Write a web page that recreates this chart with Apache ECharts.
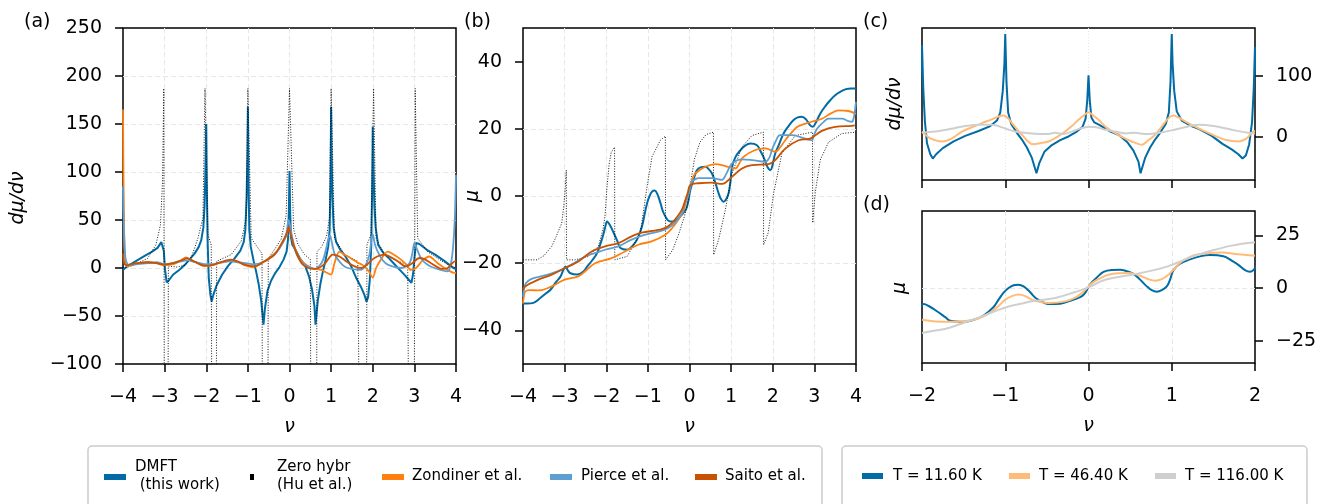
<!DOCTYPE html>
<html><head><meta charset="utf-8">
<script src="https://cdn.jsdelivr.net/npm/echarts@6/dist/echarts.min.js"></script>
<style>html,body{margin:0;padding:0;background:#fff}#c{width:1332px;height:504px}</style>
</head><body><div id="c"></div>
<script>
// ---------- DATA (nu, value) ----------
const xTicksAB = [-4,-3,-2,-1,0,1,2,3,4];
const yTicksA = [-100,-50,0,50,100,150,200,250];
const yTicksB = [-40,-20,0,20,40];
const yTicksC = [0,100];
const yTicksD = [-25,0,25];

// panel (a): dmu/dnu
const dmftDmu = [[-4,-2],[-3.95,0],[-3.85,3],[-3.7,7],[-3.5,12],[-3.3,17],[-3.17,21],[-3.08,27],[-3.05,28],[-3.02,18],[-2.99,-2],[-2.95,-15],[-2.9,-13],[-2.8,-7],[-2.65,-2],[-2.52,3],[-2.4,9],[-2.28,15],[-2.18,22],[-2.12,29],[-2.07,42],[-2.04,65],[-2.02,100],[-2.0,150],[-1.985,80],[-1.965,25],[-1.94,-10],[-1.9,-28],[-1.87,-35],[-1.83,-28],[-1.75,-18],[-1.62,-7],[-1.48,2],[-1.32,10],[-1.18,18],[-1.1,27],[-1.06,40],[-1.03,75],[-1.01,120],[-1.0,168],[-0.985,90],[-0.965,40],[-0.93,22],[-0.86,7],[-0.8,-4],[-0.74,-17],[-0.68,-34],[-0.625,-59],[-0.59,-42],[-0.53,-24],[-0.44,-13],[-0.34,-5],[-0.24,1],[-0.14,9],[-0.07,17],[-0.035,30],[-0.015,60],[0,101],[0.015,60],[0.035,32],[0.07,24],[0.13,20],[0.25,10],[0.37,3],[0.47,-9],[0.54,-22],[0.6,-40],[0.625,-59],[0.68,-34],[0.74,-17],[0.8,-4],[0.86,7],[0.93,22],[0.965,40],[0.985,90],[1.0,168],[1.01,120],[1.03,75],[1.06,42],[1.12,27],[1.22,19],[1.33,13],[1.48,2],[1.61,-11],[1.72,-20],[1.8,-28],[1.85,-35],[1.89,-30],[1.93,-12],[1.965,25],[1.985,80],[2.0,147],[2.02,100],[2.04,65],[2.07,42],[2.13,24],[2.25,16],[2.37,11],[2.5,5],[2.65,-2],[2.78,-8],[2.88,-13],[2.93,-15.5],[2.97,-6],[3.0,10],[3.04,26],[3.07,28],[3.12,25],[3.3,19],[3.5,14],[3.7,8],[3.85,3],[3.94,0],[4,-1]];
const zeroDmu = [[-4,0],[-3.8,2],[-3.65,5],[-3.41,10],[-3.21,24],[-3.1,45],[-3.05,90],[-3.02,187],[-3.0,-400],[-2.93,-400],[-2.91,2],[-2.7,1],[-2.5,3],[-2.35,12],[-2.2,31],[-2.08,52],[-2.03,187],[-1.96,35],[-1.88,24],[-1.85,-400],[-1.77,-400],[-1.75,7],[-1.6,10],[-1.4,14],[-1.16,28],[-1.04,52],[-1.0,187],[-0.92,31],[-0.76,21],[-0.66,15],[-0.64,-400],[-0.53,-400],[-0.51,10],[-0.35,20],[-0.2,30],[-0.08,55],[0,187],[0.1,40],[0.2,25],[0.36,14],[0.5,9],[0.53,-400],[0.64,-400],[0.66,17],[0.77,22],[0.89,33],[0.96,52],[1.0,187],[1.08,31],[1.32,14],[1.64,7],[1.73,-400],[1.84,-400],[1.86,24],[1.96,35],[2.02,187],[2.08,31],[2.28,14],[2.6,7],[2.84,3.5],[2.89,-400],[2.98,-400],[3.02,187],[3.08,31],[3.32,17],[3.56,10],[3.8,3.5],[4,0]];
const zondinerDmu = [[-4,165],[-3.98,60],[-3.95,10],[-3.9,2],[-3.8,3],[-3.65,5],[-3.4,6],[-3.2,5],[-3.0,3],[-2.8,4],[-2.6,8],[-2.49,11],[-2.35,8],[-2.2,5],[-2.04,2],[-1.85,3],[-1.7,5],[-1.5,7],[-1.35,8],[-1.2,6],[-1.08,3],[-0.9,1],[-0.75,3],[-0.6,7],[-0.45,12],[-0.3,17],[-0.18,25],[-0.08,33],[-0.02,42],[0.02,38],[0.1,25],[0.21,12],[0.35,5],[0.53,0],[0.77,-2],[0.9,-5],[1.0,-7],[1.08,5],[1.2,17],[1.32,14],[1.48,10],[1.62,6],[1.76,3],[1.9,-3],[2.0,-10],[2.08,0],[2.2,9],[2.36,17],[2.5,14],[2.64,10],[2.8,4],[2.92,-2],[3.04,0],[3.2,8],[3.36,12],[3.46,9],[3.56,5],[3.8,-2],[3.96,-5],[4,-5]];
const pierceDmu = [[-4,85],[-3.97,30],[-3.93,8],[-3.85,3],[-3.65,4],[-3.4,5],[-3.2,6],[-3.0,4],[-2.8,5],[-2.6,7],[-2.45,8],[-2.25,6],[-2.05,4],[-1.85,4],[-1.65,6],[-1.45,7],[-1.25,6],[-1.05,5],[-0.85,4],[-0.65,6],[-0.45,11],[-0.3,17],[-0.18,25],[-0.08,35],[-0.02,50],[0.03,40],[0.13,19],[0.25,8],[0.37,3.5],[0.61,-1],[0.75,4],[0.81,9],[0.88,20],[0.93,30],[0.97,34],[1.0,30],[1.08,15],[1.16,9],[1.28,3],[1.4,0],[1.72,-2],[1.85,5],[1.92,14],[1.97,30],[2.0,35],[2.05,25],[2.12,17],[2.24,8],[2.36,3.5],[2.68,0],[2.88,5],[2.95,15],[3.0,26],[3.06,20],[3.16,10],[3.3,4],[3.48,0],[3.8,-3.5],[3.88,5],[3.93,22],[3.97,50],[4,97]];
const saitoDmu = [[-4,15],[-3.97,5],[-3.92,3],[-3.8,4],[-3.65,5],[-3.4,6],[-3.2,5],[-3.0,3.5],[-2.8,5],[-2.6,8],[-2.45,10],[-2.3,7],[-2.04,2.4],[-1.85,3],[-1.72,5],[-1.4,8.7],[-1.08,3.5],[-0.84,1.7],[-0.6,7],[-0.36,14],[-0.16,28],[-0.05,38],[-0.02,43],[0.03,35],[0.12,21],[0.29,5],[0.45,0],[0.61,-1],[0.84,4],[1.04,14],[1.2,12],[1.36,7],[1.55,2],[1.72,0],[1.85,3],[2.04,10.4],[2.28,14],[2.45,11],[2.6,7],[2.8,1.7],[2.95,5],[3.12,10.4],[3.25,9],[3.4,5],[3.68,-1],[3.8,0],[3.88,3.5],[3.97,7],[4,7]];

// panel (b): mu
const dmftMu = [[-4,-32],[-3.9,-32],[-3.75,-31.8],[-3.6,-30.5],[-3.45,-29],[-3.34,-27.9],[-3.2,-25.5],[-3.1,-24],[-3.03,-22],[-2.98,-21],[-2.92,-22.2],[-2.86,-23],[-2.7,-23.4],[-2.55,-22.5],[-2.46,-21],[-2.34,-19.2],[-2.22,-17],[-2.12,-13.5],[-2.06,-11],[-2.02,-9],[-1.98,-7.6],[-1.92,-8.5],[-1.82,-11],[-1.72,-13.8],[-1.66,-15.5],[-1.5,-16],[-1.38,-15],[-1.26,-13],[-1.14,-9],[-1.08,-5.5],[-1.02,-2.2],[-0.96,0],[-0.9,1.3],[-0.84,1.6],[-0.78,0.8],[-0.7,-2],[-0.62,-5.1],[-0.46,-7.6],[-0.34,-7.4],[-0.22,-6],[-0.1,-4.3],[-0.06,-3.2],[-0.02,-1],[0.02,1.8],[0.1,5],[0.18,7.7],[0.28,8.6],[0.38,8.7],[0.46,8],[0.54,6.7],[0.62,4],[0.7,0.8],[0.76,-1],[0.82,-1.7],[0.88,-1],[0.94,0.8],[0.98,4],[1.02,8.5],[1.1,11.5],[1.22,13.6],[1.34,15],[1.46,15.6],[1.62,15.1],[1.72,13],[1.8,11],[1.88,8.5],[1.94,7.7],[1.98,8.5],[2.06,12.7],[2.14,15],[2.26,18.6],[2.38,20.8],[2.5,22.6],[2.6,23.4],[2.7,23.6],[2.8,22.8],[2.9,21],[2.96,20.6],[3.02,21.5],[3.14,24.5],[3.26,26.7],[3.38,28.5],[3.5,30],[3.62,31],[3.76,31.8],[3.88,32],[4,32]];
const zeroMu = [[-4,-19],[-3.66,-19],[-3.5,-17.8],[-3.31,-15],[-3.2,-12],[-3.07,-8.1],[-3.02,-3],[-2.99,1.5],[-2.96,7.7],[-2.955,-19],[-2.75,-19],[-2.43,-18],[-2.19,-15],[-2.08,-10],[-2.03,-6],[-1.98,3],[-1.93,9.5],[-1.88,13],[-1.8,14.5],[-1.795,-19],[-1.5,-18],[-1.18,-11],[-1.02,2.8],[-0.9,11.7],[-0.7,16.6],[-0.58,17.8],[-0.575,-19],[-0.54,-18.5],[-0.4,-16],[-0.25,-11],[-0.12,-6],[-0.04,-2],[0,1],[0.04,5],[0.12,11],[0.25,16],[0.4,18.3],[0.575,19],[0.58,-17.5],[0.7,-13],[0.86,-4.2],[1.02,6.7],[1.26,14.6],[1.5,18],[1.775,19],[1.78,-14.5],[1.89,-11],[2.02,0.8],[2.22,12.7],[2.54,18],[2.955,19],[2.96,-8],[3.02,0.9],[3.14,10.7],[3.34,16],[3.66,18.6],[4,19]];
const zondinerMu = [[-4,-32],[-3.98,-30],[-3.95,-28.5],[-3.85,-28],[-3.63,-28.1],[-3.31,-26.9],[-3.0,-24.9],[-2.67,-23.9],[-2.47,-22],[-2.27,-20],[-1.87,-18.5],[-1.55,-16.5],[-1.23,-14.5],[-0.91,-13.5],[-0.59,-11.6],[-0.42,-9.6],[-0.27,-7.1],[-0.15,-4.5],[-0.07,-1.2],[0,2],[0.07,5],[0.14,6.7],[0.38,8.7],[0.62,9.5],[0.86,8.9],[1.1,8.2],[1.2,9.8],[1.3,11.7],[1.58,13.7],[1.82,14.2],[2.06,13.2],[2.18,14.5],[2.3,16.6],[2.46,19],[2.62,20.8],[2.94,22.1],[3.18,23],[3.4,24.6],[3.58,25.5],[3.82,25.3],[4,24.4]];
const pierceMu = [[-4,-30],[-3.97,-27.5],[-3.93,-26],[-3.83,-24.9],[-3.6,-24],[-3.31,-23],[-3.0,-21.5],[-2.75,-19.8],[-2.51,-18],[-2.27,-17],[-2.03,-16],[-1.71,-15],[-1.39,-13],[-1.08,-11.6],[-0.75,-10.6],[-0.52,-9.6],[-0.29,-7.1],[-0.18,-5],[-0.1,-1.7],[-0.05,-0.6],[0.02,2.5],[0.06,4.3],[0.14,5],[0.22,5.3],[0.54,5.3],[0.68,5],[0.78,4.8],[0.88,6.5],[0.96,8.5],[1.02,9.7],[1.14,10.6],[1.26,10.9],[1.5,10.7],[1.82,10.2],[1.92,11.5],[1.98,13.7],[2.06,16],[2.18,18.1],[2.46,18.1],[2.7,17.4],[2.94,16.6],[2.98,17.8],[3.04,19.5],[3.1,20.6],[3.22,22],[3.34,23],[3.66,23],[3.82,22.3],[3.9,22.1],[3.95,23.5],[3.98,26],[4,28]];
const saitoMu = [[-4,-28],[-3.95,-26.9],[-3.63,-24.9],[-3.31,-23.4],[-3.0,-21.5],[-2.67,-19.5],[-2.35,-16.5],[-2.03,-15],[-1.71,-14],[-1.39,-12],[-1.15,-10.9],[-0.75,-10.1],[-0.52,-9.1],[-0.29,-6.1],[-0.18,-4],[-0.1,-1.2],[-0.04,1],[0.02,3.3],[0.22,3.8],[0.54,4],[0.78,3.6],[1.02,5.7],[1.26,8.2],[1.5,9.2],[1.9,9.5],[2.06,10.7],[2.3,14.1],[2.62,16.6],[2.9,17.1],[3.18,19.4],[3.5,20.6],[3.9,20.9],[3.97,21]];

// panels (c),(d): temperatures (T = 11.60 K uses the DMFT arrays above)
const t46Dmu = [[-2,9],[-1.98,6.5],[-1.9,-2],[-1.76,-7],[-1.64,-2],[-1.52,9],[-1.4,16],[-1.28,22.8],[-1.16,29],[-1.08,33.7],[-1.02,35.3],[-0.96,30],[-0.92,22.8],[-0.86,13],[-0.8,3.8],[-0.74,-5],[-0.68,-11.5],[-0.58,-10],[-0.48,-7.1],[-0.38,0],[-0.28,9.2],[-0.2,18],[-0.12,28.2],[-0.05,36],[0,40.7],[0.05,36],[0.12,28.2],[0.22,15],[0.32,6.5],[0.42,-1],[0.52,-7.1],[0.64,-12.6],[0.72,-5],[0.8,3.8],[0.88,17],[0.96,31],[1.02,35.3],[1.08,32],[1.16,25.5],[1.28,17],[1.4,9.2],[1.52,2],[1.64,-4.4],[1.8,-7.1],[1.9,-2],[1.94,3.8],[1.98,9.2],[2,10]];
const t116Dmu = [[-2,7],[-1.8,10],[-1.6,15],[-1.48,18],[-1.3,20],[-1.16,20],[-1.0,14],[-0.88,9.2],[-0.68,6],[-0.5,5],[-0.4,7],[-0.3,5],[-0.2,9],[-0.1,14],[0,17],[0.1,16],[0.2,12],[0.32,9],[0.45,6],[0.55,7],[0.7,5],[0.85,7],[1.0,11],[1.12,15],[1.32,20],[1.5,18],[1.72,12],[1.92,7],[2,6]];
const t46Mu = [[-2,-15],[-1.84,-15.8],[-1.68,-16],[-1.52,-15.8],[-1.36,-14.9],[-1.26,-13.4],[-1.16,-11],[-1.08,-8.5],[-1.0,-5.5],[-0.92,-3.8],[-0.84,-3.1],[-0.76,-3.8],[-0.68,-5.5],[-0.58,-6.6],[-0.48,-7.1],[-0.28,-6.3],[-0.16,-4.5],[-0.08,-2.4],[0.04,2.3],[0.14,4.6],[0.24,6.3],[0.36,7],[0.48,7.1],[0.56,6.6],[0.64,5.5],[0.72,4.2],[0.8,3.5],[0.88,4.2],[0.96,6.3],[1.04,9.5],[1.12,12.6],[1.22,14.8],[1.32,16],[1.46,16.6],[1.6,16.8],[1.8,16],[2,15.3]];
const t116Mu = [[-2,-21.3],[-1.84,-20.1],[-1.68,-18.9],[-1.48,-16.2],[-1.28,-13.4],[-1.12,-10.9],[-0.96,-8.7],[-0.8,-7.3],[-0.68,-6.3],[-0.4,-4.7],[-0.16,-1.9],[0,0.3],[0.2,3.9],[0.52,6.3],[0.8,8.6],[0.96,10.4],[1.12,12.9],[1.28,15.3],[1.44,17.3],[1.72,20.1],[2,21.7]];

// ---------- STYLE ----------
const FONT = 'DejaVu Sans';
const C = {dmft:'#006BA4', zon:'#FF800E', pie:'#5F9ED1', sai:'#C85200', t46:'#FFBC79', t116:'#CFCFCF'};
const fmt = v => (v < 0 ? '\u2212' + Math.abs(v) : String(v));
const dashed = {color:'#e6e6e6', width:1, type:[5,3]};
const dotted = {color:'#e6e6e6', width:1, type:[1,2]};
const tick = {show:true, length:8, lineStyle:{color:'#000', width:1.5}};
const lbl = {fontSize:19, fontFamily:FONT, color:'#000', formatter:fmt};

function xAx(gi, min, max, showLabel, split, name){
  return {gridIndex:gi, type:'value', min:min, max:max, interval:1,
    axisLine:{show:false, onZero:false}, axisTick:tick,
    axisLabel:Object.assign({show:showLabel, margin:24}, lbl),
    splitLine:{show:true, showMinLine:false, showMaxLine:false, lineStyle:split},
    name:name||'', nameLocation:'middle', nameGap:54,
    nameTextStyle:{fontSize:19, fontStyle:'italic', fontFamily:FONT, color:'#000'}};
}
function yAx(gi, min, max, ticks, pos, split){
  return {gridIndex:gi, type:'value', min:min, max:max, position:pos,
    axisLine:{show:false, onZero:false},
    axisTick:Object.assign({customValues:ticks}, tick),
    axisLabel:Object.assign({customValues:ticks, margin:21}, lbl),
    splitLine:{show:true, showMinLine:false, showMaxLine:false, lineStyle:split}};
}
function ln(name, data, xi, color, width, smooth, extra){
  return Object.assign({type:'line', name:name, data:data, xAxisIndex:xi, yAxisIndex:xi,
    showSymbol:false, symbol:'none', clip:true, smooth:smooth,
    lineStyle:{color:color, width:width}, itemStyle:{color:color}, animation:false}, extra||{});
}
const dotLine = {color:'#000', width:0.9, type:[1,1.6]};

const gridBox = {show:true, borderColor:'#000', borderWidth:1.5, backgroundColor:'transparent'};

const textStyle = (t, x, y, size, extra) => ({type:'text', x:x, y:y, z:100,
  style:Object.assign({text:t, fontSize:size, fontFamily:FONT, fill:'#000', align:'left', verticalAlign:'middle'}, extra||{})});

const graphic = [
  textStyle('(a)', 24, 22, 19), textStyle('(b)', 464, 22, 19),
  textStyle('(c)', 863, 22, 19), textStyle('(d)', 863, 205, 19),
  Object.assign(textStyle('d\u03bc/d\u03bd', 18, 198, 19, {align:'center', fontStyle:'italic'}), {rotation:Math.PI/2}),
  Object.assign(textStyle('\u03bc', 473, 196, 19, {align:'center', fontStyle:'italic'}), {rotation:Math.PI/2}),
  Object.assign(textStyle('d\u03bc/d\u03bd', 895, 104, 19, {align:'center', fontStyle:'italic'}), {rotation:Math.PI/2}),
  Object.assign(textStyle('\u03bc', 900, 288, 19, {align:'center', fontStyle:'italic'}), {rotation:Math.PI/2}),
  // legend 1
  {type:'rect', shape:{x:88, y:446, width:734, height:90, r:4}, style:{fill:'#fff', stroke:'#cccccc', lineWidth:1.5}, z:50},
  {type:'rect', shape:{x:104, y:474, width:22, height:6}, style:{fill:C.dmft}, z:60},
  textStyle('DMFT', 135, 467, 15), textStyle(' (this work)', 135, 485, 15),
  {type:'rect', shape:{x:250, y:474, width:4, height:6}, style:{fill:'#000'}, z:60},
  textStyle('Zero hybr', 277, 467, 15), textStyle('(Hu et al.)', 277, 485, 15),
  {type:'rect', shape:{x:382, y:474, width:22, height:6}, style:{fill:C.zon}, z:60},
  textStyle('Zondiner et al.', 412, 476, 15),
  {type:'rect', shape:{x:550, y:474, width:22, height:6}, style:{fill:C.pie}, z:60},
  textStyle('Pierce et al.', 581, 476, 15),
  {type:'rect', shape:{x:695, y:474, width:22, height:6}, style:{fill:C.sai}, z:60},
  textStyle('Saito et al.', 725, 476, 15),
  // legend 2
  {type:'rect', shape:{x:842, y:446, width:465, height:90, r:4}, style:{fill:'#fff', stroke:'#cccccc', lineWidth:1.5}, z:50},
  {type:'rect', shape:{x:862, y:473, width:21, height:6}, style:{fill:C.dmft}, z:60},
  textStyle('T = 11.60 K', 893, 476, 15),
  {type:'rect', shape:{x:1009, y:473, width:21, height:6}, style:{fill:C.t46}, z:60},
  textStyle('T = 46.40 K', 1039, 476, 15),
  {type:'rect', shape:{x:1155, y:473, width:21, height:6}, style:{fill:C.t116}, z:60},
  textStyle('T = 116.00 K', 1185, 476, 15)
];

const option = {
  animation:false,
  backgroundColor:'#fff',
  textStyle:{fontFamily:FONT},
  grid:[
    Object.assign({left:123, top:28, width:333, height:336}, gridBox),
    Object.assign({left:523, top:28, width:333, height:336}, gridBox),
    Object.assign({left:922, top:28, width:333, height:152}, gridBox),
    Object.assign({left:922, top:211, width:333, height:152}, gridBox)
  ],
  xAxis:[
    xAx(0, -4, 4, true, dashed, '\u03bd'),
    xAx(1, -4, 4, true, dashed, '\u03bd'),
    xAx(2, -2, 2, false, dotted, ''),
    xAx(3, -2, 2, true, dashed, '\u03bd')
  ],
  yAxis:[
    Object.assign(yAx(0, -100, 250, yTicksA, 'left', dashed), {interval:50}),
    yAx(1, -50, 50, yTicksB, 'left', dashed),
    yAx(2, -70, 178, yTicksC, 'right', dotted),
    yAx(3, -35.5, 36.5, yTicksD, 'right', dashed)
  ],
  series:[
    ln('DMFT', dmftDmu, 0, C.dmft, 2, false),
    ln('Zero hybr', zeroDmu, 0, '#000', 0.9, false, {lineStyle:dotLine}),
    ln('Zondiner et al.', zondinerDmu, 0, C.zon, 1.8, 0.3),
    ln('Pierce et al.', pierceDmu, 0, C.pie, 1.8, 0.3),
    ln('Saito et al.', saitoDmu, 0, C.sai, 1.8, 0.3),

    ln('DMFT', dmftMu, 1, C.dmft, 2, 0.4),
    ln('Zero hybr', zeroMu, 1, '#000', 0.9, false, {lineStyle:dotLine}),
    ln('Zondiner et al.', zondinerMu, 1, C.zon, 1.8, 0.4),
    ln('Pierce et al.', pierceMu, 1, C.pie, 1.8, 0.4),
    ln('Saito et al.', saitoMu, 1, C.sai, 1.8, 0.4),

    ln('T = 11.60 K', dmftDmu, 2, C.dmft, 2, false),
    ln('T = 46.40 K', t46Dmu, 2, C.t46, 2, 0.3),
    ln('T = 116.00 K', t116Dmu, 2, C.t116, 2, 0.3),

    ln('T = 11.60 K', dmftMu, 3, C.dmft, 2, 0.4),
    ln('T = 46.40 K', t46Mu, 3, C.t46, 2, 0.4),
    ln('T = 116.00 K', t116Mu, 3, C.t116, 2, 0.4)
  ],
  graphic:graphic
};
const chart = echarts.init(document.getElementById('c'), null, {renderer:'canvas'});
chart.setOption(option);
</script></body></html>
